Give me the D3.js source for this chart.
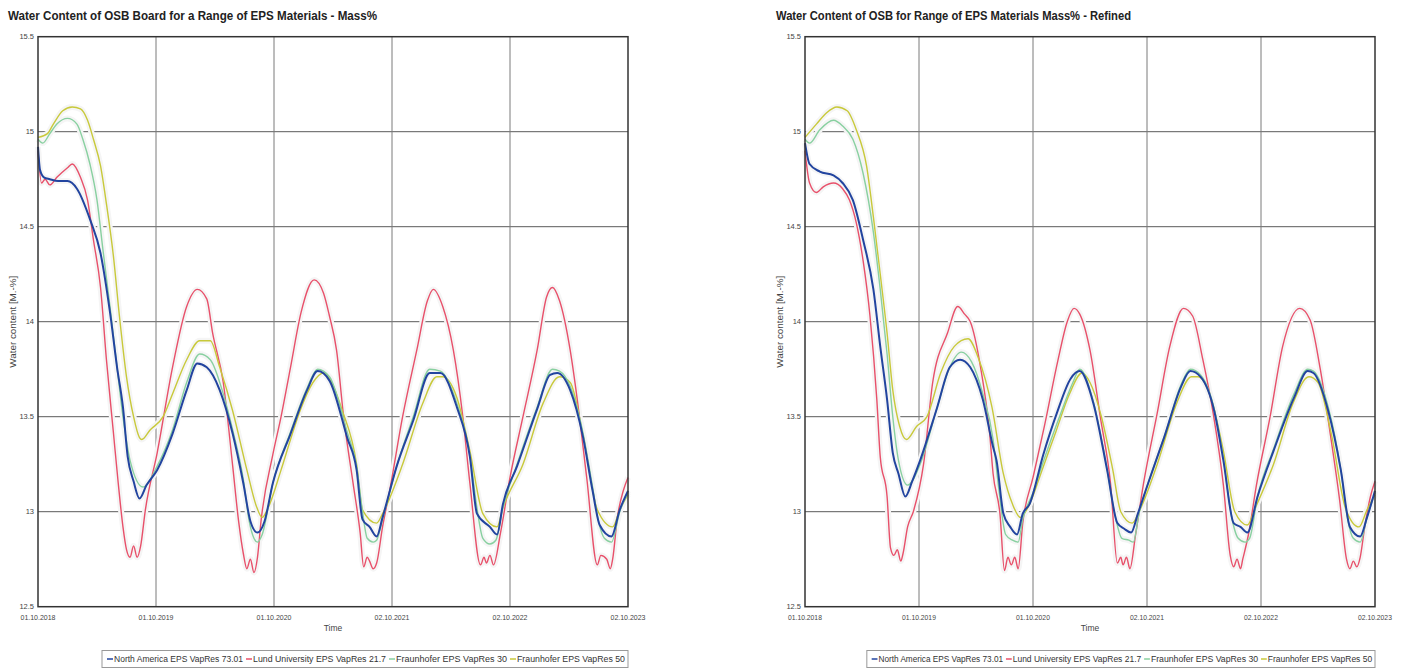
<!DOCTYPE html>
<html>
<head>
<meta charset="utf-8">
<script src="https://cdn.jsdelivr.net/npm/d3@7"></script>
<style>
  body { margin: 0; background: #fff; }
  text { font-family: "Liberation Sans", Arial, sans-serif; }
</style>
</head>
<body>
<div id="chart"></div>
<script>
// x values are years since 01.10.2018, y values are water content in M.-%
const tickLabels = ["01.10.2018", "01.10.2019", "01.10.2020", "02.10.2021", "02.10.2022", "02.10.2023"];
const yTicks = [12.5, 13, 13.5, 14, 14.5, 15, 15.5];
const seriesNames = ["North America EPS VapRes 73.01", "Lund University EPS VapRes 21.7", "Fraunhofer EPS VapRes 30", "Fraunhofer EPS VapRes 50"];
const seriesColors = ["#22449f", "#e8506a", "#88d0a0", "#c8c93a"];

// left chart
const leftNorthAmerica = [[0,14.92],[0.017,14.80],[0.05,14.76],[0.10,14.75],[0.17,14.74],[0.25,14.74],[0.33,14.70],[0.44,14.54],[0.53,14.36],[0.61,14.05],[0.67,13.76],[0.72,13.55],[0.76,13.29],[0.81,13.16],[0.86,13.07],[0.92,13.14],[1.01,13.22],[1.14,13.41],[1.26,13.64],[1.35,13.78],[1.43,13.76],[1.54,13.64],[1.65,13.41],[1.74,13.15],[1.80,12.95],[1.86,12.89],[1.92,12.95],[1.99,13.15],[2.14,13.41],[2.28,13.64],[2.37,13.74],[2.47,13.69],[2.62,13.39],[2.70,13.22],[2.75,12.96],[2.81,12.92],[2.87,12.87],[2.92,12.97],[3.04,13.24],[3.18,13.48],[3.32,13.73],[3.41,13.73],[3.55,13.55],[3.66,13.29],[3.72,12.99],[3.83,12.92],[3.89,12.88],[3.94,13.04],[4.06,13.24],[4.23,13.54],[4.34,13.72],[4.40,13.73],[4.51,13.64],[4.62,13.39],[4.70,13.11],[4.76,12.93],[4.86,12.87],[4.93,13.01],[5.00,13.11]];
const leftLund = [[0,14.90],[0.03,14.73],[0.06,14.75],[0.10,14.72],[0.16,14.76],[0.25,14.81],[0.29,14.83],[0.36,14.76],[0.42,14.64],[0.47,14.43],[0.53,14.18],[0.58,13.80],[0.64,13.41],[0.68,13.15],[0.72,12.92],[0.75,12.80],[0.78,12.76],[0.81,12.82],[0.84,12.76],[0.87,12.82],[0.91,13.01],[1.01,13.31],[1.14,13.76],[1.26,14.08],[1.35,14.17],[1.43,14.12],[1.48,13.94],[1.57,13.68],[1.65,13.24],[1.70,12.95],[1.74,12.78],[1.77,12.70],[1.80,12.75],[1.83,12.68],[1.86,12.76],[1.89,12.95],[1.99,13.30],[2.06,13.50],[2.14,13.76],[2.23,14.05],[2.34,14.22],[2.42,14.15],[2.47,14.03],[2.53,13.85],[2.59,13.50],[2.67,13.15],[2.73,12.89],[2.76,12.71],[2.79,12.76],[2.81,12.74],[2.84,12.70],[2.87,12.73],[2.92,12.92],[2.98,13.11],[3.09,13.50],[3.21,13.85],[3.30,14.11],[3.35,14.17],[3.43,14.08],[3.52,13.85],[3.60,13.50],[3.66,13.15],[3.75,12.72],[3.78,12.76],[3.80,12.73],[3.83,12.77],[3.86,12.72],[3.92,12.89],[4.00,13.18],[4.11,13.50],[4.23,13.85],[4.31,14.13],[4.36,14.18],[4.42,14.11],[4.51,13.85],[4.57,13.59],[4.65,13.18],[4.74,12.72],[4.77,12.77],[4.82,12.75],[4.85,12.70],[4.87,12.75],[4.91,12.97],[4.96,13.11],[5.00,13.18]];
const leftFraunhofer30 = [[0,14.96],[0.04,14.94],[0.10,14.99],[0.16,15.04],[0.25,15.07],[0.33,15.04],[0.38,14.96],[0.44,14.83],[0.50,14.64],[0.55,14.38],[0.61,14.08],[0.67,13.76],[0.72,13.50],[0.78,13.27],[0.89,13.13],[1.01,13.24],[1.14,13.43],[1.26,13.68],[1.37,13.83],[1.46,13.80],[1.57,13.62],[1.65,13.43],[1.74,13.17],[1.79,12.95],[1.83,12.86],[1.86,12.84],[1.90,12.88],[1.99,13.15],[2.14,13.42],[2.28,13.65],[2.37,13.75],[2.47,13.71],[2.62,13.42],[2.70,13.24],[2.75,13.00],[2.79,12.86],[2.84,12.84],[2.87,12.85],[2.92,12.96],[3.04,13.24],[3.18,13.50],[3.32,13.75],[3.41,13.74],[3.55,13.57],[3.66,13.30],[3.72,13.02],[3.77,12.86],[3.83,12.83],[3.88,12.85],[3.94,13.02],[4.06,13.25],[4.23,13.55],[4.36,13.75],[4.42,13.74],[4.51,13.66],[4.62,13.41],[4.70,13.13],[4.75,12.95],[4.80,12.86],[4.86,12.84],[4.93,13.00],[5.00,13.10]];
const leftFraunhofer50 = [[0,14.97],[0.08,14.99],[0.13,15.04],[0.21,15.11],[0.29,15.13],[0.36,15.12],[0.42,15.06],[0.47,14.96],[0.53,14.82],[0.58,14.62],[0.64,14.34],[0.69,14.03],[0.75,13.71],[0.81,13.50],[0.86,13.39],[0.88,13.38],[0.95,13.43],[1.06,13.50],[1.14,13.62],[1.26,13.80],[1.37,13.90],[1.46,13.90],[1.54,13.76],[1.65,13.53],[1.77,13.22],[1.85,13.03],[1.90,12.97],[1.95,13.02],[2.06,13.22],[2.14,13.38],[2.22,13.53],[2.33,13.68],[2.42,13.73],[2.47,13.70],[2.58,13.53],[2.70,13.25],[2.75,13.01],[2.87,12.94],[2.92,12.99],[3.09,13.25],[3.26,13.57],[3.38,13.71],[3.43,13.71],[3.55,13.60],[3.66,13.32],[3.77,12.99],[3.89,12.92],[3.94,13.02],[4.11,13.25],[4.28,13.57],[4.42,13.71],[4.51,13.68],[4.62,13.40],[4.74,13.01],[4.87,12.92],[4.93,13.01],[5.00,13.09]];

// right chart (refined)
const rightNorthAmerica = [[0,14.94],[0.04,14.83],[0.13,14.79],[0.25,14.77],[0.33,14.73],[0.42,14.64],[0.51,14.43],[0.60,14.17],[0.66,13.87],[0.72,13.59],[0.77,13.31],[0.82,13.20],[0.88,13.08],[0.94,13.16],[1.01,13.27],[1.16,13.55],[1.27,13.76],[1.36,13.80],[1.45,13.76],[1.56,13.59],[1.65,13.34],[1.68,13.27],[1.74,12.99],[1.80,12.92],[1.86,12.88],[1.91,12.99],[1.97,13.04],[2.09,13.30],[2.21,13.52],[2.33,13.70],[2.41,13.74],[2.53,13.57],[2.65,13.22],[2.74,12.94],[2.80,12.91],[2.86,12.89],[2.92,12.99],[3.01,13.15],[3.15,13.39],[3.30,13.66],[3.38,13.74],[3.47,13.71],[3.59,13.53],[3.67,13.27],[3.76,12.94],[3.82,12.92],[3.88,12.89],[3.97,13.08],[4.11,13.32],[4.29,13.60],[4.41,13.74],[4.46,13.73],[4.59,13.53],[4.70,13.22],[4.78,12.92],[4.87,12.87],[4.93,12.97],[5.00,13.11]];
const rightLund = [[0,14.90],[0.04,14.73],[0.10,14.68],[0.16,14.71],[0.25,14.73],[0.33,14.70],[0.39,14.64],[0.45,14.52],[0.51,14.32],[0.57,14.03],[0.63,13.59],[0.66,13.29],[0.72,13.08],[0.75,12.81],[0.78,12.77],[0.81,12.80],[0.84,12.74],[0.86,12.78],[0.90,12.92],[0.95,13.00],[1.04,13.25],[1.12,13.68],[1.25,13.94],[1.34,14.08],[1.40,14.04],[1.45,14.00],[1.54,13.76],[1.62,13.41],[1.65,13.20],[1.71,12.99],[1.75,12.69],[1.78,12.76],[1.81,12.72],[1.84,12.76],[1.87,12.70],[1.91,12.94],[2.00,13.18],[2.10,13.45],[2.22,13.80],[2.30,14.00],[2.36,14.07],[2.41,14.04],[2.50,13.85],[2.59,13.50],[2.68,13.15],[2.74,12.73],[2.77,12.76],[2.79,12.72],[2.82,12.76],[2.85,12.70],[2.90,12.88],[2.97,13.15],[3.09,13.52],[3.20,13.87],[3.32,14.07],[3.40,14.03],[3.49,13.80],[3.58,13.52],[3.67,13.14],[3.73,12.77],[3.76,12.71],[3.79,12.75],[3.82,12.70],[3.84,12.75],[3.89,12.88],[3.96,13.14],[4.08,13.50],[4.19,13.87],[4.34,14.07],[4.43,14.01],[4.52,13.75],[4.61,13.40],[4.69,13.06],[4.75,12.75],[4.78,12.70],[4.81,12.74],[4.84,12.71],[4.87,12.76],[4.91,12.92],[4.96,13.08],[5.00,13.16]];
const rightFraunhofer30 = [[0,14.96],[0.04,14.94],[0.13,15.01],[0.25,15.06],[0.33,15.03],[0.42,14.96],[0.51,14.78],[0.60,14.47],[0.66,14.17],[0.72,13.83],[0.77,13.50],[0.82,13.27],[0.90,13.14],[1.01,13.25],[1.16,13.55],[1.27,13.76],[1.37,13.84],[1.46,13.79],[1.56,13.62],[1.65,13.38],[1.70,13.12],[1.76,12.88],[1.82,12.85],[1.87,12.84],[1.91,12.96],[2.00,13.10],[2.10,13.28],[2.22,13.48],[2.35,13.68],[2.41,13.75],[2.52,13.60],[2.64,13.26],[2.72,12.98],[2.78,12.86],[2.84,12.85],[2.88,12.84],[2.93,12.99],[3.01,13.15],[3.16,13.41],[3.30,13.67],[3.38,13.75],[3.47,13.72],[3.59,13.54],[3.67,13.28],[3.74,12.98],[3.80,12.86],[3.86,12.84],[3.90,12.86],[3.97,13.08],[4.11,13.33],[4.29,13.62],[4.41,13.75],[4.46,13.74],[4.59,13.55],[4.70,13.22],[4.76,12.96],[4.81,12.86],[4.87,12.84],[4.93,12.97],[5.00,13.10]];
const rightFraunhofer50 = [[0,14.97],[0.10,15.04],[0.19,15.10],[0.28,15.13],[0.37,15.11],[0.45,15.01],[0.54,14.82],[0.60,14.55],[0.66,14.25],[0.72,13.94],[0.77,13.64],[0.83,13.45],[0.89,13.38],[0.98,13.45],[1.07,13.50],[1.19,13.73],[1.31,13.87],[1.43,13.91],[1.52,13.81],[1.64,13.55],[1.74,13.20],[1.82,13.04],[1.89,12.97],[1.97,13.04],[2.08,13.22],[2.20,13.42],[2.32,13.62],[2.43,13.73],[2.50,13.68],[2.60,13.50],[2.70,13.22],[2.77,13.00],[2.87,12.94],[2.93,13.00],[3.09,13.25],[3.26,13.57],[3.39,13.71],[3.45,13.71],[3.57,13.58],[3.67,13.32],[3.77,13.00],[3.88,12.93],[3.95,13.02],[4.11,13.25],[4.28,13.57],[4.42,13.71],[4.50,13.68],[4.62,13.40],[4.74,13.02],[4.86,12.92],[4.93,13.01],[5.00,13.09]];

const W = 1407, H = 671;
const plotTop = 36.7, plotBottom = 606.7;

const svg = d3.select("#chart").append("svg")
    .attr("width", W)
    .attr("height", H);

function drawChart(opt) {
    const s = (opt.x1 - opt.x0) / 590; // the right picture is slightly narrower

    const x = d3.scaleLinear().domain([0, 5]).range([opt.x0, opt.x1]);
    const y = d3.scaleLinear().domain([12.5, 15.5]).range([plotBottom, plotTop]);

    const g = svg.append("g");

    g.append("text")
        .attr("x", opt.titleX).attr("y", 20)
        .attr("font-size", 13).attr("font-weight", "bold").attr("fill", "#222")
        .attr("textLength", opt.titleLen).attr("lengthAdjust", "spacingAndGlyphs")
        .text(opt.title);

    // grid
    g.append("g").selectAll("line")
        .data(yTicks.slice(1, -1))
        .enter().append("line")
        .attr("x1", opt.x0).attr("x2", opt.x1)
        .attr("y1", d => y(d)).attr("y2", d => y(d))
        .attr("stroke", "#5a5a5a").attr("stroke-width", 1);

    g.append("g").selectAll("line")
        .data([1, 2, 3, 4])
        .enter().append("line")
        .attr("x1", d => x(d)).attr("x2", d => x(d))
        .attr("y1", plotTop).attr("y2", plotBottom)
        .attr("stroke", "#7a7a7a").attr("stroke-width", 1);

    // y tick labels
    g.append("g").selectAll("text")
        .data(yTicks)
        .enter().append("text")
        .attr("x", opt.x0 - 4).attr("y", d => y(d) + 2.5)
        .attr("text-anchor", "end").attr("font-size", 7.5).attr("fill", "#444")
        .text(d => d);

    // x tick labels
    g.append("g").selectAll("text")
        .data(tickLabels)
        .enter().append("text")
        .attr("x", (d, i) => x(i)).attr("y", 619.5)
        .attr("text-anchor", "middle").attr("font-size", 7.5).attr("fill", "#444")
        .attr("textLength", 35 * s).attr("lengthAdjust", "spacingAndGlyphs")
        .text(d => d);

    g.append("text")
        .attr("x", (opt.x0 + opt.x1) / 2).attr("y", 631)
        .attr("text-anchor", "middle").attr("font-size", 8.5).attr("fill", "#444")
        .text("Time");

    g.append("text")
        .attr("transform", `translate(${opt.x0 - 22},${(plotTop + plotBottom) / 2}) rotate(-90)`)
        .attr("text-anchor", "middle").attr("font-size", 8.5).attr("fill", "#444")
        .attr("textLength", 92).attr("lengthAdjust", "spacingAndGlyphs")
        .text("Water content [M.-%]");

    const line = d3.line()
        .x(d => x(d[0]))
        .y(d => y(d[1]))
        .curve(d3.curveMonotoneX);

    // faint halo like in the scanned picture
    opt.series.forEach(function(data) {
        g.append("path")
            .attr("d", line(data))
            .attr("fill", "none")
            .attr("stroke", "#f5f5f5")
            .attr("stroke-width", 6);
    });

    // draw order: red, yellow, green, blue
    [1, 3, 2, 0].forEach(function(i) {
        g.append("path")
            .attr("d", line(opt.series[i]))
            .attr("fill", "none")
            .attr("stroke", seriesColors[i])
            .attr("stroke-width", i == 0 ? 2 : 1.4)
            .attr("stroke-linejoin", "round");
    });

    // plot border
    g.append("rect")
        .attr("x", opt.x0).attr("y", plotTop)
        .attr("width", opt.x1 - opt.x0).attr("height", plotBottom - plotTop)
        .attr("fill", "none").attr("stroke", "#333").attr("stroke-width", 1.5);

    // legend, right aligned with the plot
    const lg = g.append("g").attr("transform", `translate(${opt.x1},0)`);
    lg.append("rect")
        .attr("x", -526 * s).attr("y", 650.5)
        .attr("width", 526 * s).attr("height", 17)
        .attr("fill", "#fff").attr("stroke", "#999").attr("stroke-width", 1);

    const lineStart = [-521, -382, -239, -118];
    const textLen = [129, 133, 111, 108];
    seriesNames.forEach(function(name, i) {
        lg.append("line")
            .attr("x1", lineStart[i] * s).attr("x2", (lineStart[i] + 6) * s)
            .attr("y1", 659).attr("y2", 659)
            .attr("stroke", seriesColors[i]).attr("stroke-width", 1.5);
        lg.append("text")
            .attr("x", (lineStart[i] + 7) * s).attr("y", 662)
            .attr("font-size", 8.5).attr("fill", "#333")
            .attr("textLength", textLen[i] * s).attr("lengthAdjust", "spacingAndGlyphs")
            .text(name);
    });
}

drawChart({
    title: "Water Content of OSB Board for a Range of EPS Materials - Mass%",
    titleX: 8, titleLen: 369,
    x0: 38, x1: 628,
    series: [leftNorthAmerica, leftLund, leftFraunhofer30, leftFraunhofer50]
});

drawChart({
    title: "Water Content of OSB for Range of EPS Materials Mass% - Refined",
    titleX: 776, titleLen: 355,
    x0: 805, x1: 1375,
    series: [rightNorthAmerica, rightLund, rightFraunhofer30, rightFraunhofer50]
});
</script>
</body>
</html>
